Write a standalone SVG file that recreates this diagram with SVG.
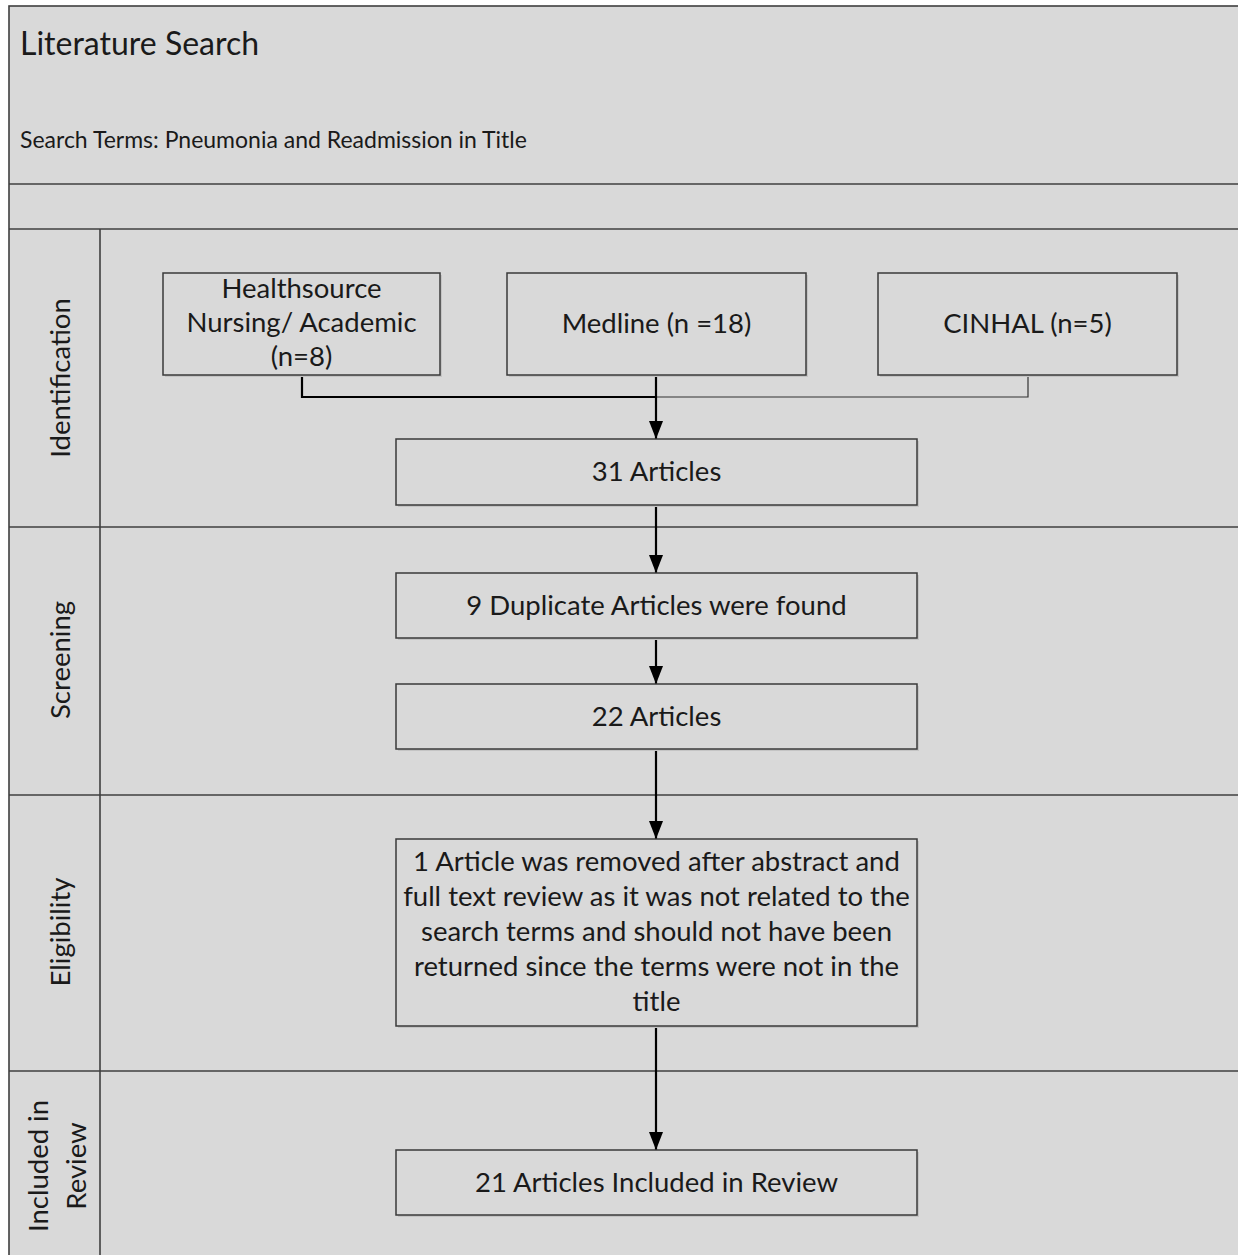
<svg xmlns="http://www.w3.org/2000/svg" width="1238" height="1255" viewBox="0 0 1238 1255">
<defs>
<style>
.frame{fill:#d9d9d9;stroke:#3f3f3f;stroke-width:1.6}
.ln{stroke:#3f3f3f;stroke-width:1.6;fill:none}
.box{fill:#d9d9d9;stroke:#3a3a3a;stroke-width:1.5}
.sh{fill:#c4c4c4}
.t{font-family:Lato,"Open Sans",sans-serif;fill:#1a1a1a;text-anchor:middle;font-size:27.5px}
.h{font-family:Lato,"Open Sans",sans-serif;fill:#1a1a1a}
.c{stroke:#000;stroke-width:2.2;fill:none}
.c2{stroke:#333;stroke-width:1.2;fill:none}
</style>
<marker id="arr" markerWidth="18" markerHeight="14" refX="18" refY="7" orient="auto" markerUnits="userSpaceOnUse" viewBox="0 0 18 14">
<path d="M0,0 L18,7 L0,14 Z" fill="#000"/>
</marker>
</defs>
<rect x="0" y="0" width="1238" height="1255" fill="#ffffff"/>
<g id="frame">
<rect class="frame" x="9" y="6" width="1240" height="1260"/>
<line class="ln" x1="9" y1="184" x2="1238" y2="184"/>
<line class="ln" x1="9" y1="229" x2="1238" y2="229"/>
<line class="ln" x1="100" y1="229" x2="100" y2="1255"/>
<line class="ln" x1="9" y1="527" x2="1238" y2="527"/>
<line class="ln" x1="9" y1="795" x2="1238" y2="795"/>
<line class="ln" x1="9" y1="1071" x2="1238" y2="1071"/>
<text class="h" x="20" y="55" font-size="32">Literature Search</text>
<text class="h" x="20" y="148" font-size="23">Search Terms: Pneumonia and Readmission in Title</text>
</g>
<g id="lane-identification"><text class="t" transform="translate(70,378) rotate(-90)">Identification</text></g>
<g id="lane-screening"><text class="t" transform="translate(70,660) rotate(-90)">Screening</text></g>
<g id="lane-eligibility"><text class="t" transform="translate(70,932) rotate(-90)">Eligibility</text></g>
<g id="lane-included"><text class="t" transform="translate(0,1166) rotate(-90)"><tspan x="0" y="48">Included in</tspan><tspan x="0" y="86">Review</tspan></text></g>

<g id="connectors">
<path class="c2" d="M1028,375 V397 H656"/>
<path class="c" d="M302,375 V397 H656"/>
<path class="c" d="M656,375 V439" marker-end="url(#arr)"/>
<path class="c" d="M656,505 V573" marker-end="url(#arr)"/>
<path class="c" d="M656,638 V684" marker-end="url(#arr)"/>
<path class="c" d="M656,749 V839" marker-end="url(#arr)"/>
<path class="c" d="M656,1026 V1150" marker-end="url(#arr)"/>
</g>

<g id="n-healthsource">
<rect class="sh" x="165" y="275" width="277" height="102"/>
<rect class="box" x="163" y="273" width="277" height="102"/>
<text class="t"><tspan x="301.5" y="298">Healthsource</tspan><tspan x="301.5" y="332">Nursing/ Academic</tspan><tspan x="301.5" y="366">(n=8)</tspan></text>
</g>
<g id="n-medline">
<rect class="sh" x="509" y="275" width="299" height="102"/>
<rect class="box" x="507" y="273" width="299" height="102"/>
<text class="t" x="656.5" y="333">Medline (n =18)</text>
</g>
<g id="n-cinhal">
<rect class="sh" x="880" y="275" width="299" height="102"/>
<rect class="box" x="878" y="273" width="299" height="102"/>
<text class="t" x="1027.5" y="333">CINHAL (n=5)</text>
</g>
<g id="n-31">
<rect class="sh" x="398" y="441" width="521" height="66"/>
<rect class="box" x="396" y="439" width="521" height="66"/>
<text class="t" x="656.5" y="481">31 Articles</text>
</g>
<g id="n-dup">
<rect class="sh" x="398" y="575" width="521" height="65"/>
<rect class="box" x="396" y="573" width="521" height="65"/>
<text class="t" x="656.5" y="615">9 Duplicate Articles were found</text>
</g>
<g id="n-22">
<rect class="sh" x="398" y="686" width="521" height="65"/>
<rect class="box" x="396" y="684" width="521" height="65"/>
<text class="t" x="656.5" y="726">22 Articles</text>
</g>
<g id="n-removed">
<rect class="sh" x="398" y="841" width="521" height="187"/>
<rect class="box" x="396" y="839" width="521" height="187"/>
<text class="t"><tspan x="656.5" y="871">1 Article was removed after abstract and</tspan><tspan x="656.5" y="906">full text review as it was not related to the</tspan><tspan x="656.5" y="941">search terms and should not have been</tspan><tspan x="656.5" y="976">returned since the terms were not in the</tspan><tspan x="656.5" y="1011">title</tspan></text>
</g>
<g id="n-21">
<rect class="sh" x="398" y="1152" width="521" height="65"/>
<rect class="box" x="396" y="1150" width="521" height="65"/>
<text class="t" x="656.5" y="1192">21 Articles Included in Review</text>
</g>
</svg>
